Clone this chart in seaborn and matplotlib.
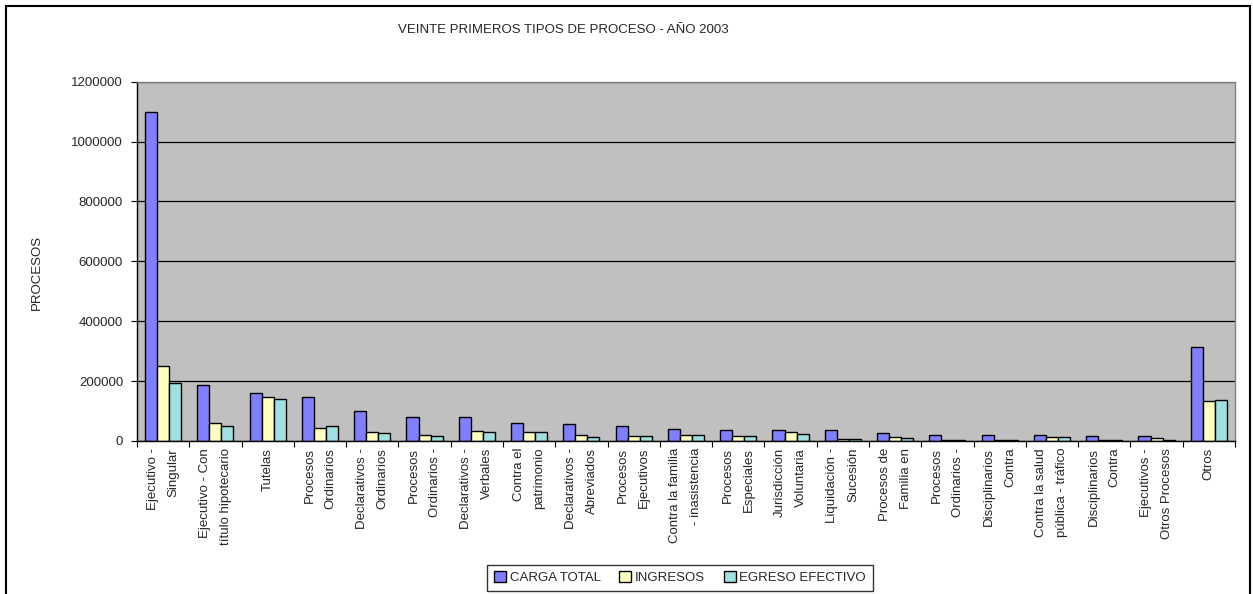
import matplotlib
matplotlib.use('Agg')
import matplotlib.pyplot as plt
from matplotlib.patches import Rectangle
import pandas as pd
import seaborn as sns

# tipos de proceso (etiquetas en dos lineas, como en la hoja original)
tipos = ['Ejecutivo -\nSingular', 'Ejecutivo - Con\ntítulo hipotecario', 'Tutelas',
         'Procesos\nOrdinarios', 'Declarativos -\nOrdinarios', 'Procesos\nOrdinarios -',
         'Declarativos -\nVerbales', 'Contra el\npatrimonio', 'Declarativos -\nAbreviados',
         'Procesos\nEjecutivos', 'Contra la familia\n- inasistencia', 'Procesos\nEspeciales',
         'Jurisdicción\nVoluntaria', 'Liquidación -\nSucesión', 'Procesos de\nFamilia en',
         'Procesos\nOrdinarios -', 'Disciplinarios\nContra', 'Contra la salud\npública - tráfico',
         'Disciplinarios\nContra', 'Ejecutivos -\nOtros Procesos', 'Otros']

carga_total = [1100000, 187000, 159000, 146000, 100000, 79000, 79000, 61000, 57000, 50000,
               41000, 37000, 37000, 37000, 26000, 21000, 21000, 21000, 17000, 17000, 313000]
ingresos = [250000, 59000, 146000, 42000, 30000, 21000, 33000, 31000, 21000, 17000,
            21000, 17000, 29000, 8000, 14000, 3000, 2500, 12000, 2000, 9000, 133000]
egreso_efectivo = [192000, 50000, 141000, 50000, 26000, 17000, 29000, 31500, 12000, 17000,
                   21000, 17000, 24000, 7500, 9000, 2500, 2000, 12000, 2000, 4000, 138000]

series = ['CARGA TOTAL', 'INGRESOS', 'EGRESO EFECTIVO']
colores = ['#8080FF', '#FFFFC0', '#A0E0E0']
y_ticks = [0, 200000, 400000, 600000, 800000, 1000000, 1200000]


def main():

    df = get_data()
    barplot(df)


def get_data():

    df = {'Tipo': [], 'Serie': [], 'Procesos': []}
    for serie, valores in zip(series, [carga_total, ingresos, egreso_efectivo]):
        for i, v in enumerate(valores):
            df['Tipo'].append(i)   # indice: hay etiquetas repetidas
            df['Serie'].append(serie)
            df['Procesos'].append(v)

    return pd.DataFrame(df)


def barplot(df):

    sns.set_style('white')
    plt.rcParams['font.family'] = ['Liberation Sans', 'DejaVu Sans']

    fig = plt.figure(figsize=(12.53, 5.94), dpi=100)
    ax = fig.add_axes([0.1093, 0.2576, 0.8763, 0.6049])
    ax.set_facecolor('#C0C0C0')

    sns.barplot(x='Tipo', y='Procesos', hue='Serie', data=df, ax=ax,
                palette=colores, hue_order=series, width=0.69,
                edgecolor='black', linewidth=1, saturation=1)

    n = len(tipos)
    ax.set_xlim(-0.5, n - 0.5)
    ax.set_ylim(0, 1200000)
    ax.set_yticks(y_ticks)
    ax.set_yticklabels([str(t) for t in y_ticks], fontsize=9.5)
    ax.yaxis.grid(True, color='black', linewidth=0.9)
    ax.set_axisbelow(True)

    # marcas entre categorias, etiquetas en el centro
    ax.set_xticks([i - 0.5 for i in range(n + 1)])
    ax.set_xticklabels([])
    ax.set_xticks(range(n), minor=True)
    ax.set_xticklabels(tipos, minor=True, rotation=90, fontsize=9.5,
                       ha='center', va='top', multialignment='right', linespacing=2.0)
    ax.tick_params(axis='x', which='major', direction='out', length=4, color='black', bottom=True)
    ax.tick_params(axis='x', which='minor', length=0, pad=5)
    ax.tick_params(axis='y', direction='out', length=4, color='black', left=True, pad=6)

    for s in ['left', 'bottom']:
        ax.spines[s].set_color('black')
        ax.spines[s].set_linewidth(1)
    for s in ['top', 'right']:
        ax.spines[s].set_color('#808080')
        ax.spines[s].set_linewidth(1)

    ax.set_xlabel('')
    ax.set_ylabel('PROCESOS', fontsize=9.5)
    ax.yaxis.set_label_coords(-0.086, 0.47)

    fig.text(0.4495, 0.949, 'VEINTE PRIMEROS TIPOS DE PROCESO - AÑO 2003',
             ha='center', va='center', fontsize=9.5)

    ax.legend(loc='center', bbox_to_anchor=(0.5427, 0.0275), bbox_transform=fig.transFigure,
              ncol=3, fontsize=9.5, frameon=True, fancybox=False, edgecolor='black',
              handlelength=0.9, handleheight=0.9, handletextpad=0.3, columnspacing=1.4,
              borderpad=0.5, title=None)
    ax.get_legend().get_frame().set_linewidth(1)

    # borde del area del grafico
    fig.patches.append(Rectangle((0.0048, -0.05), 0.9928, 1.04, transform=fig.transFigure,
                                 fill=False, edgecolor='black', linewidth=1.5))

    plt.savefig('out.png', dpi=100)
    plt.close()


if __name__ == '__main__':
    main()
